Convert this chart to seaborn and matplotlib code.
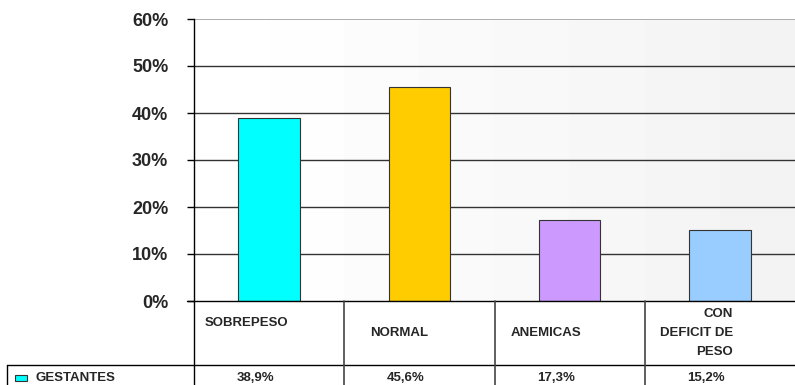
import numpy as np
import matplotlib
matplotlib.use("Agg")
import matplotlib.pyplot as plt
import matplotlib.transforms as mtransforms
import seaborn as sns
import pandas as pd

# Data
categories = ["SOBREPESO", "NORMAL", "ANEMICAS", "CON\nDEFICIT DE\nPESO"]
values = [38.9, 45.6, 17.3, 15.2]
series_name = "GESTANTES"
colors = ["#00FFFF", "#FFCC00", "#CC99FF", "#99CCFF"]
yticks = [0, 10, 20, 30, 40, 50, 60]
ytick_labels = ["0%", "10%", "20%", "30%", "40%", "50%", "60%"]

sns.set_style("white")
plt.rcParams["font.family"] = ["Liberation Sans", "DejaVu Sans"]

W, H = 795, 385
fig = plt.figure(figsize=(W / 100, H / 100), dpi=100)
ax = fig.add_axes([194 / W, 1 - 301 / H, 1 - 194 / W, (301 - 19) / H])

df = pd.DataFrame({"cat": categories, "val": values})
sns.barplot(data=df, x="cat", y="val", hue="cat", palette=colors,
            width=0.41, legend=False, edgecolor="#333333", linewidth=0.8,
            saturation=1, ax=ax, zorder=3)

ax.set_xlim(-0.5, len(categories) - 0.5)
ax.set_ylim(0, 60)

# soft horizontal gradient behind the bars
grad = np.linspace(1.0, 0.953, 8).reshape(1, -1)
ax.imshow(grad, cmap="gray", vmin=0, vmax=1, aspect="auto",
          extent=[-0.5, len(categories) - 0.5, 0, 60], zorder=0,
          interpolation="nearest")

# gridlines
for t in yticks[1:-1]:
    ax.axhline(t, color="#333333", linewidth=1.0, zorder=1)
ax.axhline(60, color="#a0a0a0", linewidth=1.2, zorder=1)

ax.set_yticks(yticks)
ax.set_yticklabels(ytick_labels, fontsize=13, fontweight="bold")
ax.tick_params(axis="y", length=5, width=1, color="black", pad=13.5, left=True)
ax.set_xticks([])
ax.set_xlabel("")
ax.set_ylabel("")
for s in ["top", "right"]:
    ax.spines[s].set_visible(False)
ax.spines["left"].set_color("black")
ax.spines["left"].set_linewidth(1)
ax.spines["bottom"].set_visible(False)

# data table beneath the axes
trans = mtransforms.blended_transform_factory(ax.transData, fig.transFigure)
def fy(py):
    return 1 - py / H

n = len(categories)
line_kw = dict(color="black", linewidth=1, clip_on=False)
# axis baseline with its left tick extension
fig.add_artist(plt.Line2D([187 / W, 1], [fy(301), fy(301)], transform=fig.transFigure, **line_kw))
# row separator
fig.add_artist(plt.Line2D([7 / W, 1], [fy(365), fy(365)], transform=fig.transFigure, **line_kw))
# legend column left border
fig.add_artist(plt.Line2D([7 / W, 7 / W], [fy(365), fy(385)], transform=fig.transFigure, **line_kw))
# column separators
for i in range(n):
    fig.add_artist(plt.Line2D([i - 0.5, i - 0.5], [fy(301), fy(385)], transform=trans,
                              color="#444444" if i else "black", linewidth=1.2 if i else 1))

# category labels (pixel offsets from the column start, vertical centre, alignment)
label_style = [(11, 323, "left"), (26, 333, "left"), (16, 333, "left"), (88, 333, "right")]
for i, (cat, (dx, py, ha)) in enumerate(zip(categories, label_style)):
    xpix = ax.transData.transform((i - 0.5, 0))[0] + dx
    fig.text(xpix / W, fy(py), cat, ha=ha, va="center", fontsize=9.5,
             fontweight="bold", multialignment="right", linespacing=1.75)

# value row
for i, v in enumerate(values):
    txt = f"{v:.1f}%".replace(".", ",")
    t = fig.text(0, fy(378), txt, transform=trans, fontsize=9.5, fontweight="bold",
                 ha="center", va="center")
    t.set_x(i - 0.09)

# legend key and series name
fig.add_artist(plt.Rectangle((15 / W, fy(381)), 12 / W, 6 / H, transform=fig.transFigure,
                             facecolor=colors[0], edgecolor="#333333", linewidth=0.8))
fig.text(36 / W, fy(378), series_name, ha="left", va="center", fontsize=9.5, fontweight="bold")

fig.savefig("out.png", dpi=100)
